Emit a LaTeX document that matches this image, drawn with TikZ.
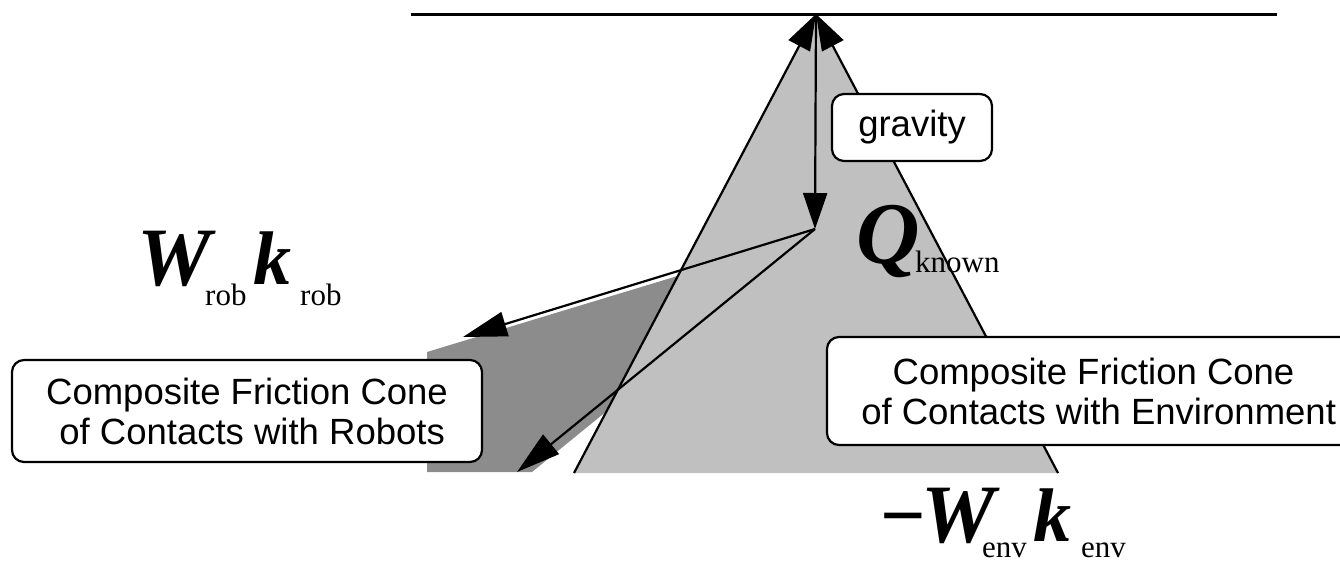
\documentclass[tikz,border=0pt]{standalone}
\usepackage{fontspec}
\setmainfont{Liberation Serif}
\newfontfamily\arialfont{Liberation Sans}
\usetikzlibrary{arrows.meta}
\definecolor{envgray}{HTML}{C0C0C0}
\definecolor{robgray}{HTML}{8C8C8C}
\tikzset{
  coneedge/.style={line width=2.2pt, -{Triangle[length=36pt,width=24pt]}},
  longarrow/.style={line width=2.2pt, -{Triangle[length=44pt,width=25pt]}},
  labelbox/.style={draw, line width=2.2pt, rounded corners=12pt, fill=white,
    font=\arialfont\fontsize{36.5}{40}\selectfont, align=center, inner sep=0pt},
  bigsym/.style={font=\fontsize{83}{83}\selectfont\bfseries\itshape, inner sep=0pt, anchor=base west},
  ksym/.style={font=\fontsize{76}{76}\selectfont\bfseries\itshape, inner sep=0pt, anchor=base west},
  subsym/.style={font=\fontsize{31}{31}\selectfont, inner sep=0pt, anchor=base west},
}
\begin{document}
\begin{tikzpicture}[x=1pt,y=-1pt]
\useasboundingbox (0,0) rectangle (1340,563);
\coordinate (apex) at (816,14);
\coordinate (Q) at (815,229);
\coordinate (envL) at (574,473);
\coordinate (envR) at (1058,473);
\coordinate (robU) at (463,337);
\coordinate (robD) at (517,472);
\coordinate (topL) at (411,14);
\coordinate (topR) at (1277,14);
% robot cone
\fill[robgray] (427,352) -- (829,230) -- (532,472) -- (427,472) -- cycle;
% environment cone
\fill[envgray] (apex) -- (envL) -- (envR) -- cycle;
\draw[line width=3pt] (topL) -- (topR);
\draw[coneedge] (envL) -- (apex);
\draw[coneedge] (envR) -- (apex);
\draw[coneedge] (apex) -- (Q);
\draw[longarrow] (Q) -- (robU);
\draw[longarrow] (Q) -- (robD);
% boxes
\node[labelbox, minimum width=160pt, minimum height=67pt] (grav) at (912,127.5) {gravity};
\node[labelbox, minimum width=470pt, minimum height=102pt] (robbox) at (247,411)
  {Composite Friction Cone\\\hspace*{0.28em}of Contacts with Robots};
\node[labelbox, minimum width=573pt, minimum height=108pt] (envbox) at (1113.5,391)
  {Composite Friction Cone\hspace*{40pt}\\\hspace*{0.28em}of Contacts with Environment\hspace*{40pt}};
% math labels
\node[bigsym] (Wr) at (137,285) {W};
\node[subsym] (sr1) at (205,305) {rob};
\node[ksym] (kr) at (253,284) {k};
\node[subsym] (sr2) at (300,305) {rob};
\node[font=\fontsize{88}{88}\selectfont\bfseries\itshape, inner sep=0pt, anchor=base west] (Qk) at (856,263) {Q};
\node[subsym] (sk) at (915,272) {known};
\node[font=\fontsize{80}{80}\selectfont\bfseries, inner sep=0pt, anchor=base west] (mn) at (880,542) {−};
\node[bigsym] (We) at (921,542) {W};
\node[subsym] (se1) at (982,557) {env};
\node[ksym] (ke) at (1033,541) {k};
\node[subsym] (se2) at (1081,557) {env};
\end{tikzpicture}
\end{document}
